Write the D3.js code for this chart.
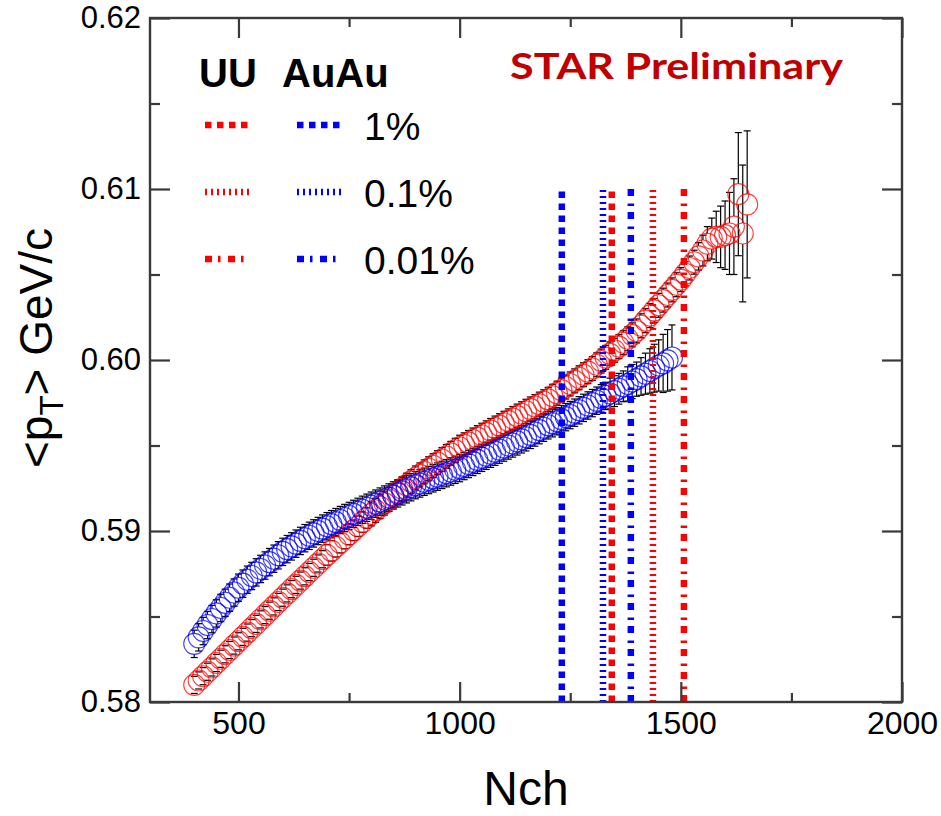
<!DOCTYPE html>
<html>
<head>
<meta charset="utf-8">
<script src="https://cdn.jsdelivr.net/npm/d3@7"></script>
<style>
  html, body { margin: 0; padding: 0; background: #fff; }
  svg { display: block; }
</style>
</head>
<body>
<svg id="chart" width="941" height="816"></svg>
<script>
// ---------------- DATA ----------------
const xTicksMajor = [500, 1000, 1500, 2000];
const xTicksMinor = [750, 1250, 1750];
const yTicksMajor = [0.58, 0.59, 0.60, 0.61, 0.62];
const yTicksMinor = [0.585, 0.595, 0.605, 0.615];

// U+U  <pT> vs Nch (red open circles)
const uuNch = [400,410,420,430,440,450,460,470,480,490,500,510,520,530,540,550,560,570,580,590,
  600,610,620,630,640,650,660,670,680,690,700,710,720,730,740,750,760,770,780,790,
  800,810,820,830,840,850,860,870,880,890,900,910,920,930,940,950,960,970,980,990,
  1000,1010,1020,1030,1040,1050,1060,1070,1080,1090,1100,1110,1120,1130,1140,1150,1160,1170,1180,1190,
  1200,1210,1220,1230,1240,1250,1260,1270,1280,1290,1300,1310,1320,1330,1340,1350,1360,1370,1380,1390,
  1400,1410,1420,1430,1440,1450,1460,1470,1480,1490,1500,1510,1520,1530,1540,1550,1560,1570,1580,1590,
  1600,1610,1620,1630,1640,1650];
const uuMeanPt = [0.58100,0.58126,0.58151,0.58177,0.58202,0.58228,0.58253,0.58279,0.58304,0.58330,
  0.58355,0.58381,0.58406,0.58432,0.58457,0.58483,0.58508,0.58534,0.58559,0.58585,
  0.58610,0.58635,0.58660,0.58685,0.58710,0.58735,0.58760,0.58785,0.58810,0.58835,
  0.58860,0.58884,0.58908,0.58932,0.58956,0.58980,0.59004,0.59028,0.59052,0.59076,
  0.59100,0.59121,0.59142,0.59163,0.59184,0.59205,0.59226,0.59247,0.59268,0.59289,
  0.59310,0.59328,0.59346,0.59364,0.59382,0.59400,0.59418,0.59436,0.59454,0.59472,
  0.59490,0.59504,0.59518,0.59532,0.59546,0.59560,0.59574,0.59588,0.59602,0.59616,
  0.59630,0.59644,0.59658,0.59672,0.59686,0.59700,0.59714,0.59728,0.59742,0.59756,
  0.59770,0.59788,0.59806,0.59824,0.59842,0.59860,0.59878,0.59896,0.59914,0.59932,
  0.59950,0.59972,0.59994,0.60015,0.60036,0.60057,0.60078,0.60101,0.60124,0.60147,
  0.60170,0.60200,0.60230,0.60260,0.60290,0.60320,0.60350,0.60380,0.60410,0.60440,
  0.60470,0.60504,0.60538,0.60572,0.60606,0.60640,0.60680,0.60710,0.60720,0.60720,
  0.60730,0.60740,0.60780,0.60970,0.60740,0.60910];
const uuErr = [0.0005,0.0005,0.0005,0.0005,0.0005,0.0005,0.0005,0.0005,0.0005,0.0005,
  0.0005,0.0005,0.0005,0.0005,0.0005,0.0005,0.0005,0.0005,0.0005,0.0005,
  0.0005,0.0005,0.0005,0.0005,0.0005,0.0005,0.0005,0.0005,0.0005,0.0005,
  0.0006,0.0006,0.0006,0.0006,0.0006,0.0006,0.0006,0.0006,0.0006,0.0006,
  0.0007,0.0007,0.0007,0.0007,0.0007,0.0007,0.0007,0.0007,0.0007,0.0007,
  0.0007,0.0007,0.0007,0.0007,0.0007,0.0007,0.0007,0.0007,0.0007,0.0007,
  0.0007,0.0007,0.0007,0.0007,0.0007,0.0007,0.0007,0.0007,0.0007,0.0007,
  0.0007,0.0007,0.0007,0.0007,0.0007,0.0007,0.0007,0.0007,0.0007,0.0007,
  0.0007,0.0007,0.0007,0.0007,0.0007,0.0007,0.0007,0.0007,0.0007,0.0007,
  0.0007,0.0007,0.0007,0.0007,0.0007,0.0007,0.0007,0.0007,0.0007,0.0007,
  0.0007,0.0007,0.0007,0.0007,0.0007,0.0007,0.0007,0.0007,0.0007,0.0007,
  0.0007,0.0007,0.0007,0.0007,0.0008,0.0009,0.0010,0.0012,0.0015,0.0018,
  0.0020,0.0024,0.0028,0.0036,0.0040,0.0043];

// Au+Au  <pT> vs Nch (blue open circles)
const auNch = [400,410,420,430,440,450,460,470,480,490,500,510,520,530,540,550,560,570,580,590,
  600,610,620,630,640,650,660,670,680,690,700,710,720,730,740,750,760,770,780,790,
  800,810,820,830,840,850,860,870,880,890,900,910,920,930,940,950,960,970,980,990,
  1000,1010,1020,1030,1040,1050,1060,1070,1080,1090,1100,1110,1120,1130,1140,1150,1160,1170,1180,1190,
  1200,1210,1220,1230,1240,1250,1260,1270,1280,1290,1300,1310,1320,1330,1340,1350,1360,1370,1380,1390,
  1400,1410,1420,1430,1440,1450,1460,1470,1480];
const auMeanPt = [0.58340,0.58378,0.58415,0.58450,0.58485,0.58518,0.58550,0.58580,0.58610,0.58640,
  0.58668,0.58692,0.58715,0.58737,0.58758,0.58778,0.58798,0.58818,0.58838,0.58858,
  0.58878,0.58894,0.58910,0.58926,0.58942,0.58958,0.58972,0.58986,0.59000,0.59014,
  0.59028,0.59040,0.59052,0.59064,0.59076,0.59088,0.59100,0.59112,0.59124,0.59136,
  0.59148,0.59160,0.59172,0.59184,0.59196,0.59208,0.59220,0.59232,0.59244,0.59256,
  0.59268,0.59278,0.59288,0.59298,0.59308,0.59318,0.59328,0.59338,0.59348,0.59358,
  0.59368,0.59380,0.59392,0.59404,0.59416,0.59428,0.59440,0.59452,0.59464,0.59476,
  0.59488,0.59500,0.59512,0.59524,0.59536,0.59548,0.59562,0.59576,0.59590,0.59604,
  0.59618,0.59630,0.59642,0.59654,0.59666,0.59678,0.59692,0.59706,0.59720,0.59734,
  0.59748,0.59762,0.59776,0.59790,0.59804,0.59818,0.59832,0.59846,0.59860,0.59874,
  0.59888,0.59904,0.59920,0.59936,0.59952,0.59968,0.59980,0.59998,0.60015];
const auErr = [0.0008,0.0008,0.0008,0.0008,0.0008,0.0008,0.0008,0.0008,0.0008,0.0008,
  0.0008,0.0008,0.0008,0.0008,0.0008,0.0008,0.0008,0.0008,0.0008,0.0008,
  0.0008,0.0008,0.0008,0.0008,0.0008,0.0008,0.0008,0.0008,0.0008,0.0008,
  0.0008,0.0008,0.0008,0.0008,0.0008,0.0008,0.0008,0.0008,0.0008,0.0008,
  0.0008,0.0008,0.0008,0.0008,0.0008,0.0008,0.0008,0.0008,0.0008,0.0008,
  0.0008,0.0008,0.0008,0.0008,0.0008,0.0008,0.0008,0.0008,0.0008,0.0008,
  0.0008,0.0008,0.0008,0.0008,0.0008,0.0008,0.0008,0.0008,0.0008,0.0008,
  0.0008,0.0008,0.0008,0.0008,0.0008,0.0008,0.0008,0.0008,0.0008,0.0008,
  0.0008,0.0008,0.0008,0.0008,0.0008,0.0008,0.0008,0.0008,0.0008,0.0008,
  0.0008,0.0008,0.0008,0.0008,0.0009,0.0009,0.0009,0.0009,0.0010,0.0010,
  0.0010,0.0011,0.0012,0.0013,0.0014,0.0015,0.0017,0.0018,0.0019];

// Centrality-cut positions (vertical lines), UU and AuAu
const cutLabels = ["1%", "0.1%", "0.01%"];
const uuCutNch = [1344, 1437, 1507];
const auCutNch = [1231, 1324, 1387];
const cutLineTop = 0.61;

// ---------------- DRAW ----------------
const svg = d3.select("#chart");
const FONT = "'Liberation Sans', Arial, Helvetica, sans-serif";
const x = d3.scaleLinear().domain([300, 2000]).range([150, 902]);
const y = d3.scaleLinear().domain([0.58, 0.62]).range([702, 18]);
const RED = "#ff0000", BLUE = "#0000ff";
const dashes = ["6.5,5.5", "2,4", "7,6,2.5,7.5"];
const R = 10.5;

const plot = svg.append("g");

// error bars (drawn only outside the marker, ROOT style)
function drawErrors(nArr, vArr, eArr) {
  const g = plot.append("g").attr("stroke", "#000").attr("stroke-width", 1.2).attr("fill", "none");
  nArr.forEach((n, i) => {
    const cx = x(n), cy = y(vArr[i]);
    const top = y(vArr[i] + eArr[i]), bot = y(vArr[i] - eArr[i]);
    if (cy - top > R) {
      g.append("line").attr("x1", cx).attr("x2", cx).attr("y1", top).attr("y2", cy - R);
      g.append("line").attr("x1", cx).attr("x2", cx).attr("y1", cy + R).attr("y2", bot);
    }
    g.append("line").attr("x1", cx - 3.5).attr("x2", cx + 3.5).attr("y1", top).attr("y2", top);
    g.append("line").attr("x1", cx - 3.5).attr("x2", cx + 3.5).attr("y1", bot).attr("y2", bot);
  });
}
drawErrors(uuNch, uuMeanPt, uuErr);
drawErrors(auNch, auMeanPt, auErr);

function drawCircles(nArr, vArr, color) {
  plot.append("g").selectAll("circle").data(nArr).join("circle")
    .attr("cx", d => x(d))
    .attr("cy", (d, i) => y(vArr[i]))
    .attr("r", R)
    .attr("fill", "none")
    .attr("stroke", color)
    .attr("stroke-opacity", 0.75)
    .attr("stroke-width", 1.1);
}
drawCircles(uuNch, uuMeanPt, RED);
drawCircles(auNch, auMeanPt, BLUE);

// vertical cut lines
function drawCuts(arr, color) {
  arr.forEach((n, i) => {
    plot.append("line")
      .attr("x1", x(n)).attr("x2", x(n))
      .attr("y1", y(0.58)).attr("y2", y(cutLineTop))
      .attr("stroke", color).attr("stroke-width", 6.5)
      .attr("stroke-dasharray", dashes[i]);
  });
}
drawCuts(auCutNch, BLUE);
drawCuts(uuCutNch, RED);

// axes (ticks pointing inward on all four sides)
const axisColor = "#3a3a3a";
function styleAxis(g, fs) {
  g.select(".domain").remove();
  g.selectAll(".tick line").attr("stroke", axisColor).attr("stroke-width", 2.2);
  g.selectAll("text").attr("font-family", FONT).attr("font-size", fs).attr("fill", "#000");
}
svg.append("g").attr("transform", "translate(0,702)")
  .call(d3.axisBottom(x).tickValues(xTicksMajor).tickSizeInner(-20).tickSizeOuter(0).tickPadding(9).tickFormat(d3.format("d")))
  .call(g => styleAxis(g, 32));
svg.append("g").attr("transform", "translate(0,702)")
  .call(d3.axisBottom(x).tickValues(xTicksMinor).tickSizeInner(-9).tickSizeOuter(0).tickFormat(""))
  .call(g => styleAxis(g, 32));
svg.append("g").attr("transform", "translate(0,18)")
  .call(d3.axisTop(x).tickValues(xTicksMajor).tickSizeInner(-20).tickSizeOuter(0).tickFormat(""))
  .call(g => styleAxis(g, 32));
svg.append("g").attr("transform", "translate(0,18)")
  .call(d3.axisTop(x).tickValues(xTicksMinor).tickSizeInner(-9).tickSizeOuter(0).tickFormat(""))
  .call(g => styleAxis(g, 32));
svg.append("g").attr("transform", "translate(150,0)")
  .call(d3.axisLeft(y).tickValues(yTicksMajor).tickSizeInner(-20).tickSizeOuter(0).tickPadding(9).tickFormat(d3.format(".2f")))
  .call(g => styleAxis(g, 31));
svg.append("g").attr("transform", "translate(150,0)")
  .call(d3.axisLeft(y).tickValues(yTicksMinor).tickSizeInner(-10).tickSizeOuter(0).tickFormat(""))
  .call(g => styleAxis(g, 31));
svg.append("g").attr("transform", "translate(902,0)")
  .call(d3.axisRight(y).tickValues(yTicksMajor).tickSizeInner(-20).tickSizeOuter(0).tickFormat(""))
  .call(g => styleAxis(g, 31));
svg.append("g").attr("transform", "translate(902,0)")
  .call(d3.axisRight(y).tickValues(yTicksMinor).tickSizeInner(-10).tickSizeOuter(0).tickFormat(""))
  .call(g => styleAxis(g, 31));

// frame
svg.append("rect").attr("x", 150).attr("y", 18).attr("width", 752).attr("height", 684)
  .attr("fill", "none").attr("stroke", axisColor).attr("stroke-width", 2.4);

// axis titles
svg.append("text").attr("x", 526).attr("y", 805).attr("text-anchor", "middle")
  .attr("font-family", FONT).attr("font-size", 48).text("Nch");
const yl = svg.append("text").attr("transform", "translate(52,348) rotate(-90)")
  .attr("text-anchor", "middle").attr("font-family", FONT).attr("font-size", 46);
yl.append("tspan").text("<p");
yl.append("tspan").attr("font-size", 33).attr("dy", 11).text("T");
yl.append("tspan").attr("dy", -11).text("> GeV/c");

// legend
svg.append("text").attr("x", 199).attr("y", 87).attr("font-family", FONT).attr("font-weight", "bold")
  .attr("font-size", 40).text("UU");
svg.append("text").attr("x", 282).attr("y", 87).attr("font-family", FONT).attr("font-weight", "bold")
  .attr("font-size", 40).text("AuAu");
const legY = [125, 192, 259];
cutLabels.forEach((lab, i) => {
  svg.append("line").attr("x1", 205).attr("x2", 249).attr("y1", legY[i]).attr("y2", legY[i])
    .attr("stroke", RED).attr("stroke-width", 6.5).attr("stroke-dasharray", dashes[i]);
  svg.append("line").attr("x1", 297).attr("x2", 341).attr("y1", legY[i]).attr("y2", legY[i])
    .attr("stroke", BLUE).attr("stroke-width", 6.5).attr("stroke-dasharray", dashes[i]);
  svg.append("text").attr("x", 364).attr("y", legY[i] + 15).attr("font-family", FONT)
    .attr("font-size", 39).text(lab);
});

// STAR Preliminary
svg.append("text").attr("x", 510).attr("y", 79)
  .attr("font-family", "Lato, 'Open Sans', sans-serif").attr("font-weight", "bold")
  .attr("font-size", 36).attr("fill", "#c00000")
  .attr("textLength", 333).attr("lengthAdjust", "spacingAndGlyphs")
  .text("STAR Preliminary");
</script>
</body>
</html>
